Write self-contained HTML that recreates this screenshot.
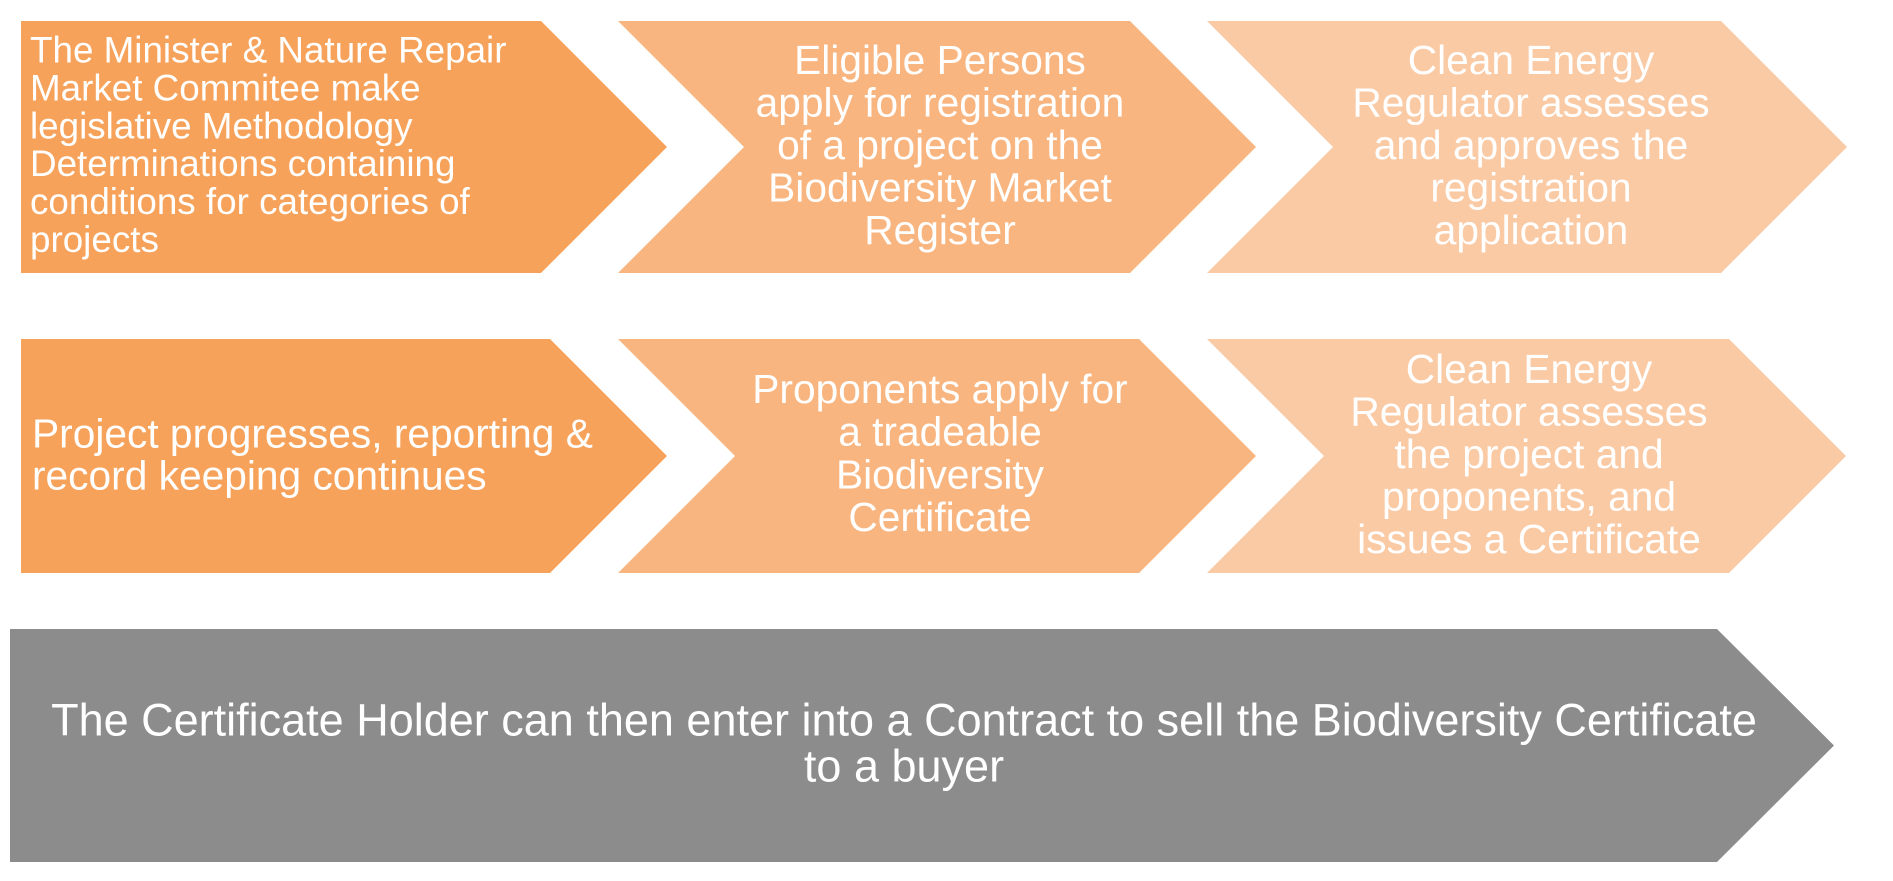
<!DOCTYPE html>
<html>
<head>
<meta charset="utf-8">
<style>
  html, body { margin: 0; padding: 0; background: #ffffff; }
  body { width: 1893px; height: 881px; overflow: hidden; }
  svg { display: block; }
  text { font-family: "Liberation Sans", Arial, sans-serif; fill: #ffffff; }
</style>
</head>
<body>
<svg width="1893" height="881" viewBox="0 0 1893 881" xmlns="http://www.w3.org/2000/svg">
  <rect x="0" y="0" width="1893" height="881" fill="#ffffff"/>

  <!-- Row 1 -->
  <polygon points="21,21 541,21 667,147 541,273 21,273" fill="#F7A25A"/>
  <polygon points="618,21 1130,21 1256,147 1130,273 618,273 744,147" fill="#F9B57F"/>
  <polygon points="1207,21 1721,21 1847,147 1721,273 1207,273 1333,147" fill="#FACAA5"/>

  <!-- Row 2 -->
  <polygon points="21,339 550,339 667,456 550,573 21,573" fill="#F7A25A"/>
  <polygon points="618,339 1139,339 1256,456 1139,573 618,573 735,456" fill="#F9B57F"/>
  <polygon points="1207,339 1729,339 1846,456 1729,573 1207,573 1324,456" fill="#FACAA5"/>

  <!-- Gray bottom arrow -->
  <polygon points="10,629 1717,629 1834,745.5 1717,862 10,862" fill="#8C8C8C"/>

  <!-- Row 1 box 1 text -->
  <g font-size="36.8">
    <text x="30" y="62.5">The Minister &amp; Nature Repair</text>
    <text x="30" y="100.4">Market Commitee make</text>
    <text x="30" y="138.3">legislative Methodology</text>
    <text x="30" y="176.2">Determinations containing</text>
    <text x="30" y="214.1">conditions for categories of</text>
    <text x="30" y="252">projects</text>
  </g>

  <!-- Row 1 box 2 text -->
  <g font-size="40.7" text-anchor="middle">
    <text x="940" y="74">Eligible Persons</text>
    <text x="940" y="116.5">apply for registration</text>
    <text x="940" y="159">of a project on the</text>
    <text x="940" y="201.5">Biodiversity Market</text>
    <text x="940" y="244">Register</text>
  </g>

  <!-- Row 1 box 3 text -->
  <g font-size="40.7" text-anchor="middle">
    <text x="1531" y="74">Clean Energy</text>
    <text x="1531" y="116.5">Regulator assesses</text>
    <text x="1531" y="159">and approves the</text>
    <text x="1531" y="201.5">registration</text>
    <text x="1531" y="244">application</text>
  </g>

  <!-- Row 2 box 1 text -->
  <g font-size="40.7">
    <text x="32" y="447.7">Project progresses, reporting &amp;</text>
    <text x="32" y="489.4">record keeping continues</text>
  </g>

  <!-- Row 2 box 2 text -->
  <g font-size="40.7" text-anchor="middle">
    <text x="940" y="403">Proponents apply for</text>
    <text x="940" y="445.7">a tradeable</text>
    <text x="940" y="488.4">Biodiversity</text>
    <text x="940" y="531">Certificate</text>
  </g>

  <!-- Row 2 box 3 text -->
  <g font-size="40.7" text-anchor="middle">
    <text x="1529" y="383">Clean Energy</text>
    <text x="1529" y="425.5">Regulator assesses</text>
    <text x="1529" y="468">the project and</text>
    <text x="1529" y="510.5">proponents, and</text>
    <text x="1529" y="553">issues a Certificate</text>
  </g>

  <!-- Gray text -->
  <g font-size="45" text-anchor="middle">
    <text x="904" y="735.7">The Certificate Holder can then enter into a Contract to sell the Biodiversity Certificate</text>
    <text x="904" y="781.7">to a buyer</text>
  </g>
</svg>
</body>
</html>
